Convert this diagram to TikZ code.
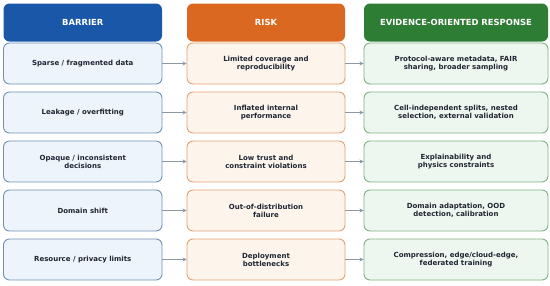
\documentclass[tikz,border=0pt]{standalone}
\usepackage{fontspec}
\setmainfont{DejaVu Sans}
\usetikzlibrary{arrows.meta}
\definecolor{hblue}{HTML}{1A57A8}
\definecolor{horange}{HTML}{DA6820}
\definecolor{hgreen}{HTML}{2E7D34}
\definecolor{bfill}{HTML}{EEF4FB}
\definecolor{bdraw}{HTML}{6F93B6}
\definecolor{ofill}{HTML}{FDF4EB}
\definecolor{odraw}{HTML}{E2A272}
\definecolor{gfill}{HTML}{EEF7EF}
\definecolor{gdraw}{HTML}{80B182}
\definecolor{textc}{HTML}{1E2633}
\definecolor{arrc}{HTML}{8C98A4}
\begin{document}
\begin{tikzpicture}[x=1pt,y=-1pt,
  box/.style={rounded corners=6pt, draw, line width=0.9pt, align=center,
    font=\fontsize{7}{8.2}\selectfont\bfseries, text=textc, inner sep=2pt,
    minimum height=41pt},
  hdr/.style={rounded corners=6pt, draw=none, align=center,
    font=\fontsize{8.4}{10}\selectfont\bfseries, text=white, minimum height=38pt},
  cola/.style={minimum width=158.5pt},
  colb/.style={minimum width=158pt},
  colc/.style={minimum width=184pt},
  bar/.style={box, cola, fill=bfill, draw=bdraw},
  rsk/.style={box, colb, fill=ofill, draw=odraw},
  rsp/.style={box, colc, fill=gfill, draw=gdraw},
  arr/.style={draw=arrc, line width=0.9pt, -{Stealth[length=4pt,width=4pt]}}
]
\useasboundingbox (0,0) rectangle (550,285);
% headers
\node[hdr, cola, fill=hblue]   (h1) at (82.75,22.5) {BARRIER};
\node[hdr, colb, fill=horange] (h2) at (266,22.5) {RISK};
\node[hdr, colc, fill=hgreen]  (h3) at (456,22.5) {EVIDENCE-ORIENTED RESPONSE};
% rows
\node[bar] (a1) at (82.75,63.5)  {Sparse / fragmented data};
\node[bar] (a2) at (82.75,112.5) {Leakage / overfitting};
\node[bar] (a3) at (82.75,161.5) {Opaque / inconsistent\\decisions};
\node[bar] (a4) at (82.75,210.5) {Domain shift};
\node[bar] (a5) at (82.75,259.5) {Resource / privacy limits};
\node[rsk] (b1) at (266,63.5)  {Limited coverage and\\reproducibility};
\node[rsk] (b2) at (266,112.5) {Inflated internal\\performance};
\node[rsk] (b3) at (266,161.5) {Low trust and\\constraint violations};
\node[rsk] (b4) at (266,210.5) {Out-of-distribution\\failure};
\node[rsk] (b5) at (266,259.5) {Deployment\\bottlenecks};
\node[rsp] (c1) at (456,63.5)  {Protocol-aware metadata, FAIR\\sharing, broader sampling};
\node[rsp] (c2) at (456,112.5) {Cell-independent splits, nested\\selection, external validation};
\node[rsp] (c3) at (456,161.5) {Explainability and\\physics constraints};
\node[rsp] (c4) at (456,210.5) {Domain adaptation, OOD\\detection, calibration};
\node[rsp] (c5) at (456,259.5) {Compression, edge/cloud-edge,\\federated training};
% arrows
\foreach \i in {1,...,5}{
  \draw[arr] (a\i.east) -- (b\i.west);
  \draw[arr] (b\i.east) -- (c\i.west);
}
\end{tikzpicture}
\end{document}
